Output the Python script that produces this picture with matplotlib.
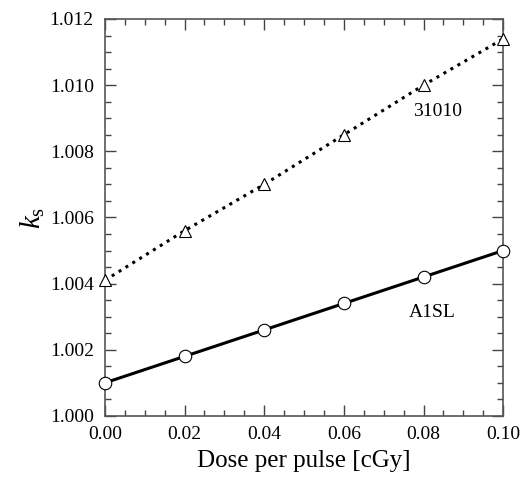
import matplotlib
matplotlib.use('Agg')
import matplotlib.pyplot as plt
import numpy as np
from matplotlib.ticker import MultipleLocator

font = {'family': 'Liberation Serif', 'size': 14}
matplotlib.rc('font', **font)
matplotlib.rcParams['mathtext.fontset'] = 'custom'
matplotlib.rcParams['mathtext.rm'] = 'Liberation Serif'
matplotlib.rcParams['mathtext.it'] = 'Liberation Serif:italic'

# data
dose = [0.00, 0.02, 0.04, 0.06, 0.08, 0.10]
ks_31010 = [1.0041, 1.0056, 1.0070, 1.0085, 1.0100, 1.0114]
ks_a1sl = [1.0010, 1.0018, 1.0026, 1.0034, 1.0042, 1.0050]

fig = plt.figure(figsize=(5.22, 4.87), dpi=100)
ax = fig.add_axes([0.201, 0.146, 0.763, 0.815])

ax.plot(dose, ks_31010, ':', color='k', lw=2.2, marker='^', ms=8.5,
        mfc='white', mec='k', mew=0.8, clip_on=False, zorder=3)
ax.plot(dose, ks_a1sl, '-', color='k', lw=2.2, marker='o', ms=9,
        mfc='white', mec='k', mew=0.8, clip_on=False, zorder=3)

ax.text(0.0834, 1.0092, '31010', ha='center', va='center', fontsize=14)
ax.text(0.0822, 1.00314, 'A1SL', ha='center', va='center', fontsize=14)

ax.set_xlim(0, 0.10)
ax.set_ylim(1.000, 1.012)
ax.xaxis.set_major_locator(MultipleLocator(0.02))
ax.xaxis.set_minor_locator(MultipleLocator(0.005))
ax.yaxis.set_major_locator(MultipleLocator(0.002))
ax.yaxis.set_minor_locator(MultipleLocator(0.0005))
ax.xaxis.set_major_formatter(matplotlib.ticker.FormatStrFormatter('%.2f'))
ax.yaxis.set_major_formatter(matplotlib.ticker.FormatStrFormatter('%.3f'))
ax.tick_params(which='both', direction='in', top=True, right=True, color='#444444')
ax.tick_params(which='major', length=8, width=1)
ax.tick_params(which='minor', length=4, width=1)
ax.tick_params(axis='x', pad=7)
ax.tick_params(axis='y', pad=8)
for s in ax.spines.values():
    s.set_color('#555555')
    s.set_linewidth(1.2)

ax.set_xlabel('Dose per pulse [cGy]', fontsize=18, labelpad=5)
ax.set_ylabel(r'$k_{\rm s}$', fontsize=21, labelpad=2)

fig.savefig('out.png', dpi=100)
